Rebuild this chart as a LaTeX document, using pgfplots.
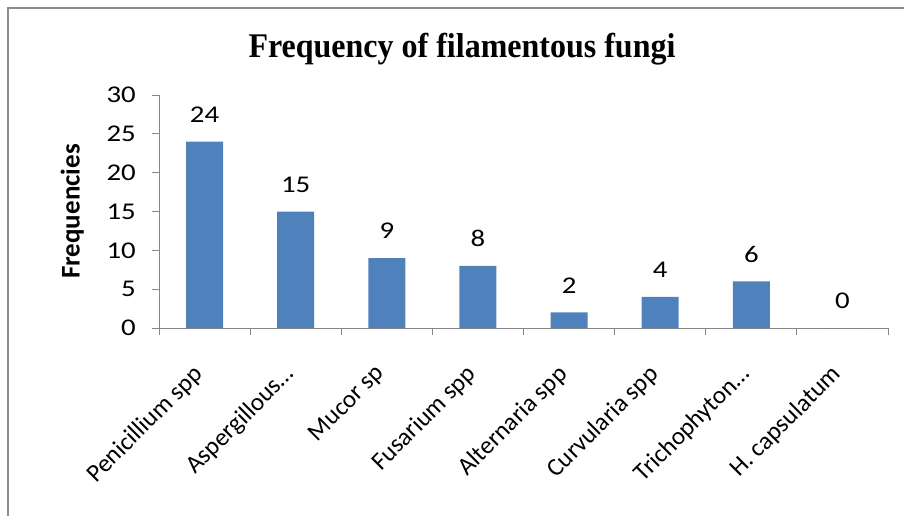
\documentclass[border=0pt]{standalone}
\usepackage{pgfplots}
\pgfplotsset{compat=1.18}
\usepackage{fontspec}
\setmainfont{Carlito}
\newfontfamily\titlefont{Liberation Serif}
\definecolor{barblue}{HTML}{4F81BD}
\definecolor{axgray}{HTML}{868686}
\definecolor{framegray}{HTML}{8C8C8C}

\begin{document}
\begin{tikzpicture}[x=1pt,y=1pt]
\useasboundingbox (0,0) rectangle (904,515);
\draw[color=framegray, line width=2pt] (8,-10) -- (8,507) -- (920,507);
\node[font=\titlefont\fontsize{32}{38}\selectfont\bfseries, anchor=base, yscale=1.08] at (462,457) {Frequency of filamentous fungi};
\begin{axis}[
  at={(159pt,187pt)}, anchor=south west,
  width=729pt, height=233pt, scale only axis,
  xmin=-0.5, xmax=7.5, ymin=0, ymax=30,
  ytick={0,5,...,30},
  xtick={-0.5,0.5,...,7.5},
  x tick label as interval,
  xticklabels={Penicillium spp, Aspergillous…, Mucor sp, Fusarium spp, Alternaria spp, Curvularia spp, Trichophyton…, H. capsulatum},
  axis x line*=bottom, axis y line*=left,
  axis line style={-, draw=axgray, line width=1pt},
  tick align=outside, major tick length=7pt,
  tick style={draw=axgray, line width=1pt},
  /pgf/number format/assume math mode=true,
  yticklabel style={font=\fontsize{24}{28}\selectfont, xscale=1.2, anchor=east},
  yticklabel shift=12pt,
  xticklabel style={font=\fontsize{25}{29}\selectfont, xshift=-13pt, rotate=45, anchor=north east, inner sep=0pt},
  xticklabel shift=28pt,
  every axis y label/.style={at={(axis description cs:-0.119,0.5)}, rotate=90, anchor=center},
  ylabel={Frequencies},
  ylabel style={font=\fontsize{27}{30}\selectfont\bfseries},
  ybar, bar width=37pt,
  nodes near coords,
  every node near coord/.append style={font=\fontsize{24}{28}\selectfont, xscale=1.2, anchor=south, inner sep=0pt, yshift=19pt, text=black},
]
\addplot[fill=barblue, draw=none] coordinates {(0,24) (1,15) (2,9) (3,8) (4,2) (5,4) (6,6) (7,0)};
\end{axis}
\end{tikzpicture}
\end{document}
